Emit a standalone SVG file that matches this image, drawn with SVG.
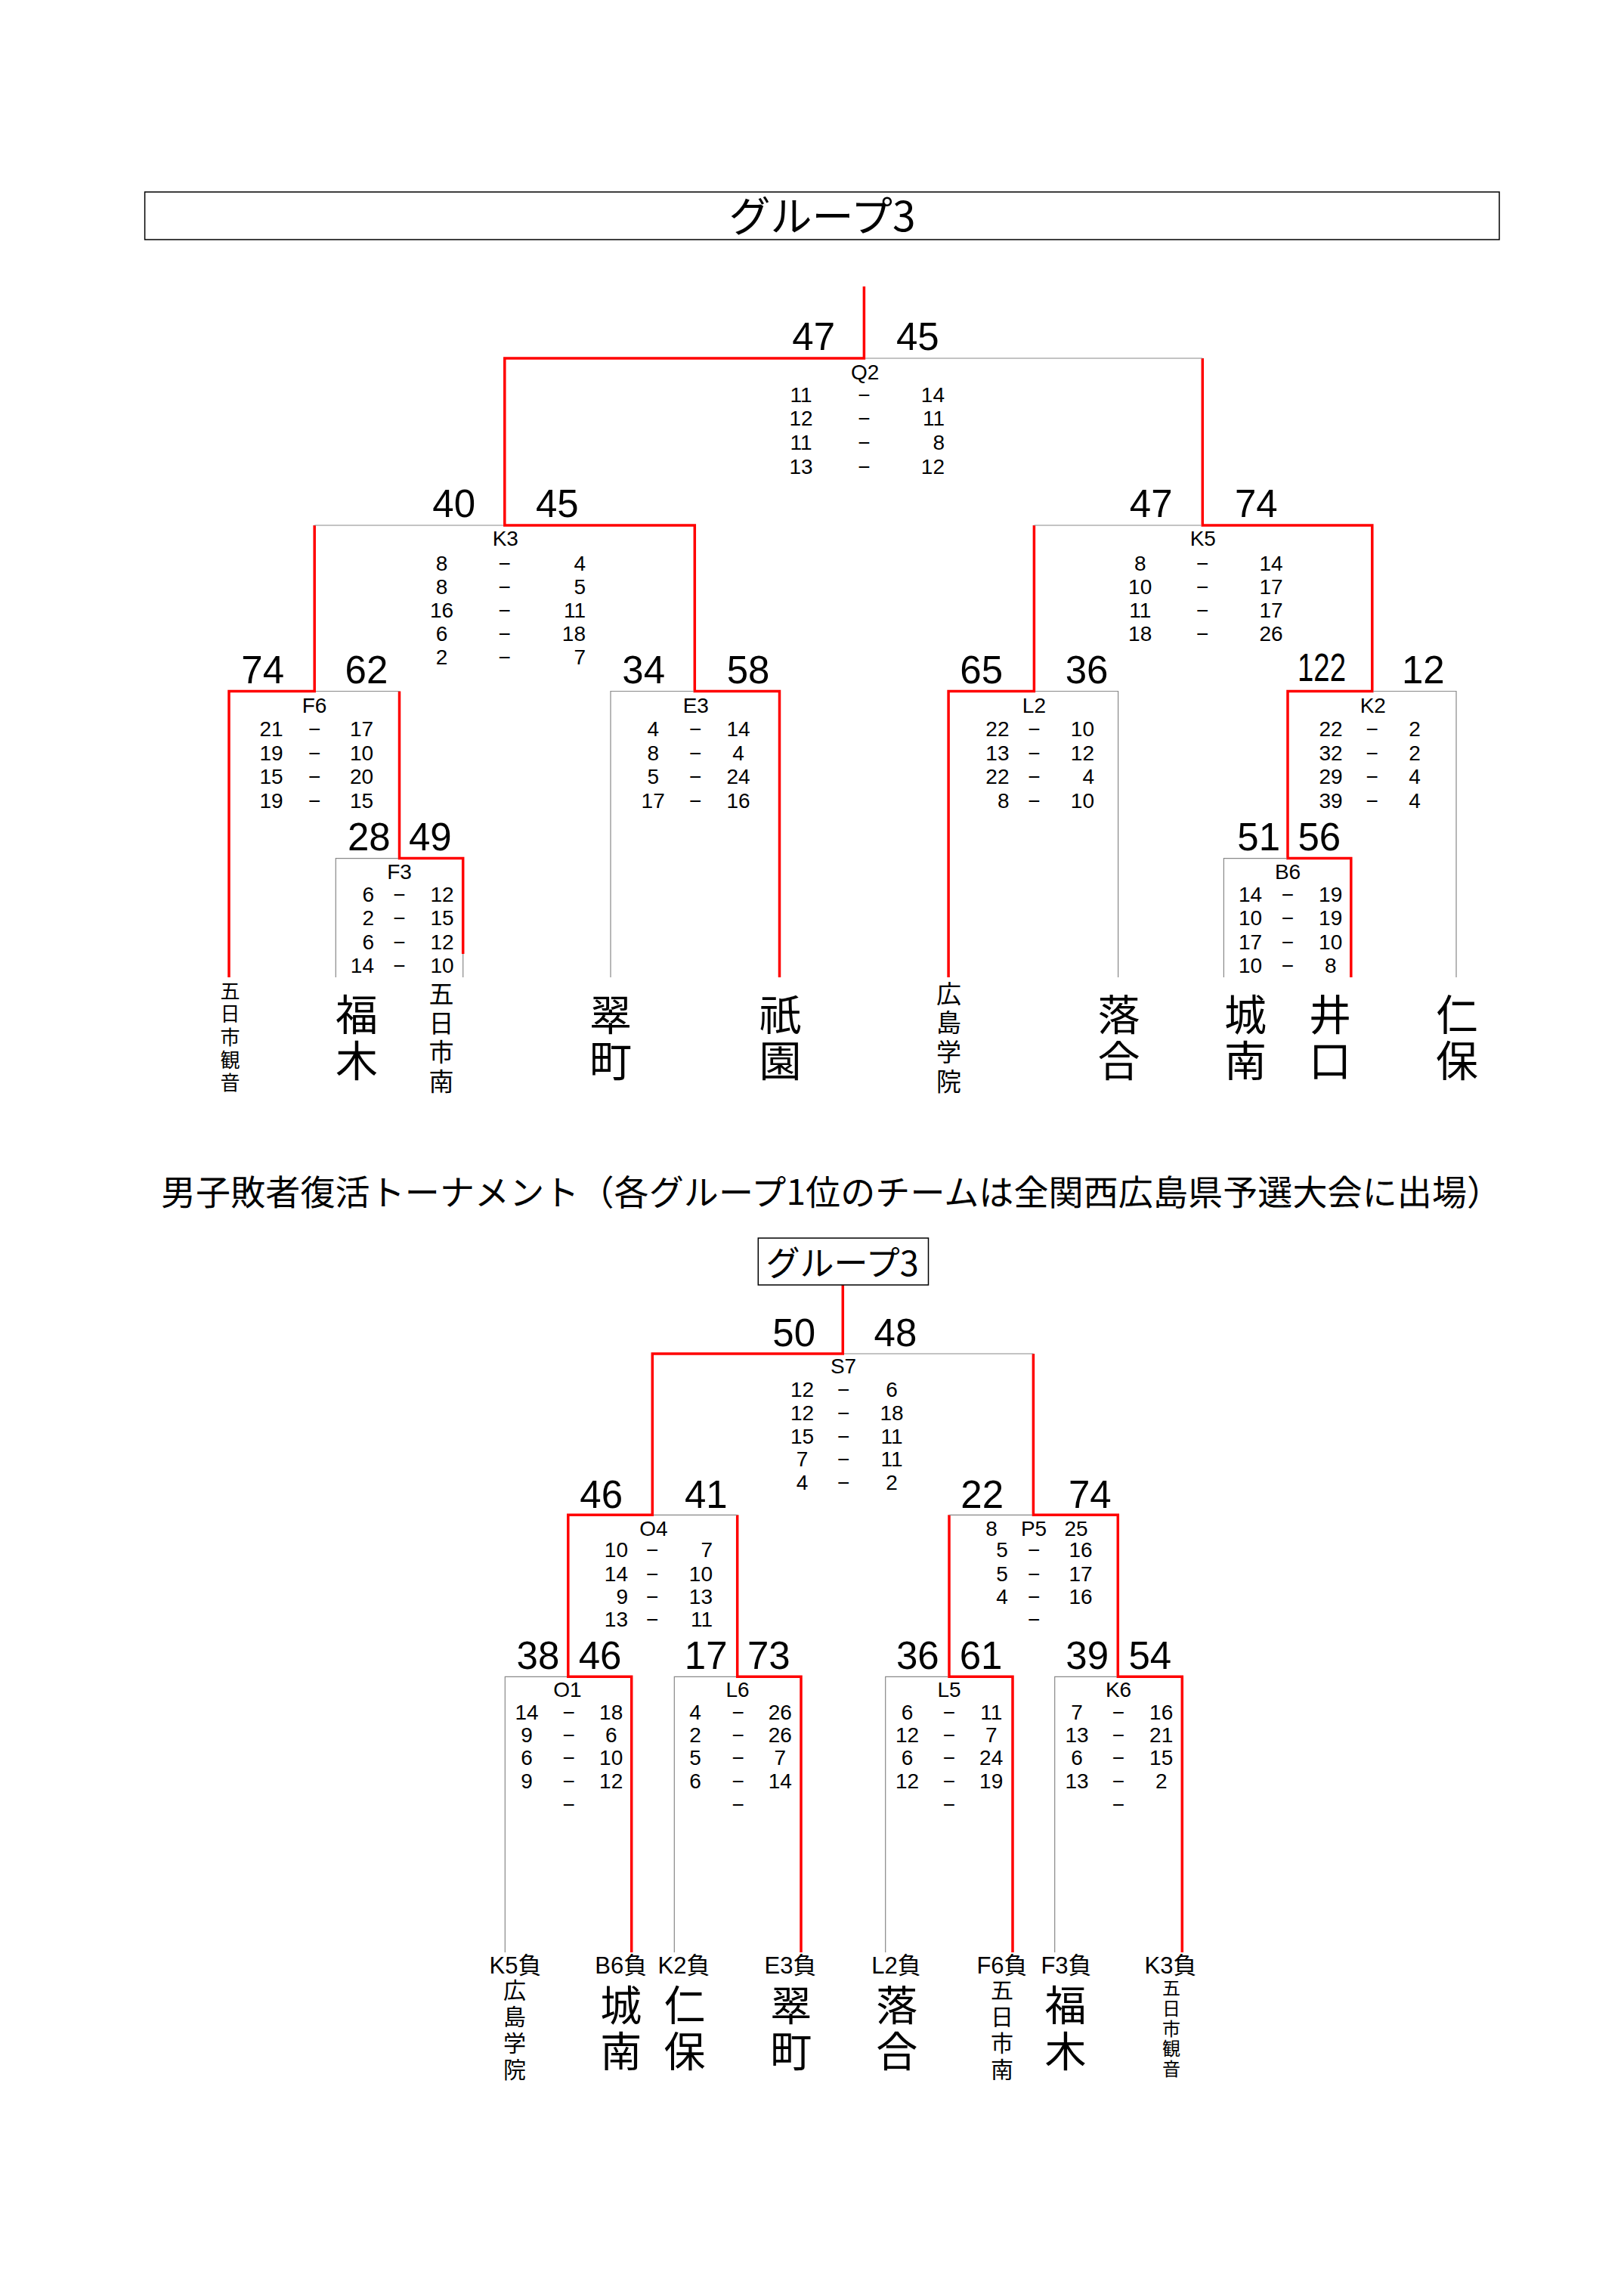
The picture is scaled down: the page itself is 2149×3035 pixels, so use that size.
<svg xmlns="http://www.w3.org/2000/svg" width="2149" height="3035" viewBox="0 0 2149 3035">
<style>
.bg{fill:#fff}
.r{fill:none;stroke:#f00;stroke-width:3.5;stroke-linejoin:miter}
.g{fill:none;stroke:#888;stroke-width:1.2}
.box{fill:none;stroke:#000;stroke-width:1.5}
text{fill:#000}
.n{font-family:"Liberation Sans",Arial,sans-serif;font-size:51px}
.s{font-family:"Liberation Sans",Arial,sans-serif;font-size:28px}
.t{font-family:"Liberation Sans","Noto Sans CJK JP",sans-serif;font-size:31px;text-anchor:middle}
.j{font-family:"Noto Sans CJK JP",sans-serif;text-anchor:middle}
.v{font-family:"Noto Sans CJK JP",sans-serif;writing-mode:vertical-rl;text-anchor:start}
.m{text-anchor:middle}
.e{text-anchor:end}
</style>
<rect class="bg" x="0" y="0" width="2149" height="3035"/>

<g id="title-top">
<rect class="box" x="191.6" y="254" width="1792.4" height="63"/>
<text class="j" x="1088" y="306" font-size="55">グループ3</text>
</g>

<g id="connectors">
<!-- top bracket, red -->
<path class="r" d="M1143.4,379 V474 H667.8 V695 H919.3 V914.5 H1031.5 V1293"/>
<path class="r" d="M416.2,695 V914.5 H303 V1293"/>
<path class="r" d="M528.5,914.5 V1135.6 H612.7 V1262"/>
<path class="r" d="M1591.3,474 V695 H1815.8 V914.5 H1704 V1135.6 H1787.8 V1293"/>
<path class="r" d="M1368.4,695 V914.5 H1255.1 V1293"/>
<!-- top bracket, gray -->
<path class="g" d="M1145,474 H1591.3"/>
<path class="g" d="M416.2,695 H666"/>
<path class="g" d="M1368.4,695 H1589.5"/>
<path class="g" d="M418,914.5 H528.5"/>
<path class="g" d="M444.3,1293 V1135.6 H527"/>
<path class="g" d="M612.7,1262 V1293"/>
<path class="g" d="M808,1293 V914.5 H918"/>
<path class="g" d="M1370,914.5 H1479.6 V1293"/>
<path class="g" d="M1817,914.5 H1927 V1293"/>
<path class="g" d="M1619.4,1293 V1135.6 H1703"/>
<!-- lower bracket, red -->
<path class="r" d="M1115.3,1700 V1791 H863.3 V2004.3 H751.8 V2218.3 H835.7 V2583"/>
<path class="r" d="M975.7,2004.3 V2218.3 H1060 V2583"/>
<path class="r" d="M1367.4,1791 V2004.3 H1479.3 V2218.3 H1564.3 V2583"/>
<path class="r" d="M1256,2004.3 V2218.3 H1340 V2583"/>
<!-- lower bracket, gray -->
<path class="g" d="M1117,1791 H1367.4"/>
<path class="g" d="M865,2004.3 H975.7"/>
<path class="g" d="M1256,2004.3 H1366"/>
<path class="g" d="M668.3,2583 V2218.3 H750"/>
<path class="g" d="M892.3,2583 V2218.3 H974"/>
<path class="g" d="M1171.7,2583 V2218.3 H1254"/>
<path class="g" d="M1395.7,2583 V2218.3 H1478"/>
</g>

<!-- ===== top bracket matches ===== -->
<g id="node-Q2">
<text class="n e" x="1105" y="463">47</text>
<text class="n" x="1186" y="463">45</text>
<text class="s m" x="1144.6" y="502">Q2</text>
<text class="s m" x="1060" y="532">11</text><text class="s m" x="1143.4" y="532">−</text><text class="s e" x="1250" y="532">14</text>
<text class="s m" x="1060" y="563">12</text><text class="s m" x="1143.4" y="563">−</text><text class="s e" x="1250" y="563">11</text>
<text class="s m" x="1060" y="595">11</text><text class="s m" x="1143.4" y="595">−</text><text class="s e" x="1250" y="595">8</text>
<text class="s m" x="1060" y="627">13</text><text class="s m" x="1143.4" y="627">−</text><text class="s e" x="1250" y="627">12</text>
</g>

<g id="node-K3">
<text class="n e" x="629" y="684">40</text>
<text class="n" x="709" y="684">45</text>
<text class="s m" x="668.8" y="722">K3</text>
<text class="s m" x="584.6" y="755">8</text><text class="s m" x="667.8" y="755">−</text><text class="s e" x="775" y="755">4</text>
<text class="s m" x="584.6" y="786">8</text><text class="s m" x="667.8" y="786">−</text><text class="s e" x="775" y="786">5</text>
<text class="s m" x="584.6" y="817">16</text><text class="s m" x="667.8" y="817">−</text><text class="s e" x="775" y="817">11</text>
<text class="s m" x="584.6" y="848">6</text><text class="s m" x="667.8" y="848">−</text><text class="s e" x="775" y="848">18</text>
<text class="s m" x="584.6" y="879">2</text><text class="s m" x="667.8" y="879">−</text><text class="s e" x="775" y="879">7</text>
</g>

<g id="node-K5">
<text class="n e" x="1551.5" y="684">47</text>
<text class="n" x="1634" y="684">74</text>
<text class="s m" x="1591.8" y="722">K5</text>
<text class="s m" x="1508.7" y="755">8</text><text class="s m" x="1591.3" y="755">−</text><text class="s m" x="1682" y="755">14</text>
<text class="s m" x="1508.7" y="786">10</text><text class="s m" x="1591.3" y="786">−</text><text class="s m" x="1682" y="786">17</text>
<text class="s m" x="1508.7" y="817">11</text><text class="s m" x="1591.3" y="817">−</text><text class="s m" x="1682" y="817">17</text>
<text class="s m" x="1508.7" y="848">18</text><text class="s m" x="1591.3" y="848">−</text><text class="s m" x="1682" y="848">26</text>
</g>

<g id="node-F6">
<text class="n e" x="376" y="903.5">74</text>
<text class="n" x="456.6" y="903.5">62</text>
<text class="s m" x="416" y="943">F6</text>
<text class="s m" x="359" y="974">21</text><text class="s m" x="416.2" y="974">−</text><text class="s m" x="478.5" y="974">17</text>
<text class="s m" x="359" y="1005.5">19</text><text class="s m" x="416.2" y="1005.5">−</text><text class="s m" x="478.5" y="1005.5">10</text>
<text class="s m" x="359" y="1037">15</text><text class="s m" x="416.2" y="1037">−</text><text class="s m" x="478.5" y="1037">20</text>
<text class="s m" x="359" y="1068.5">19</text><text class="s m" x="416.2" y="1068.5">−</text><text class="s m" x="478.5" y="1068.5">15</text>
</g>

<g id="node-F3">
<text class="n e" x="516.7" y="1124.6">28</text>
<text class="n" x="541" y="1124.6">49</text>
<text class="s m" x="528.5" y="1162.5">F3</text>
<text class="s e" x="495" y="1193">6</text><text class="s m" x="528.5" y="1193">−</text><text class="s m" x="585" y="1193">12</text>
<text class="s e" x="495" y="1224">2</text><text class="s m" x="528.5" y="1224">−</text><text class="s m" x="585" y="1224">15</text>
<text class="s e" x="495" y="1256">6</text><text class="s m" x="528.5" y="1256">−</text><text class="s m" x="585" y="1256">12</text>
<text class="s e" x="495" y="1287">14</text><text class="s m" x="528.5" y="1287">−</text><text class="s m" x="585" y="1287">10</text>
</g>

<g id="node-E3">
<text class="n e" x="880" y="903.5">34</text>
<text class="n" x="961.7" y="903.5">58</text>
<text class="s m" x="920.8" y="943">E3</text>
<text class="s m" x="864.2" y="974">4</text><text class="s m" x="920.3" y="974">−</text><text class="s m" x="977" y="974">14</text>
<text class="s m" x="864.2" y="1005.5">8</text><text class="s m" x="920.3" y="1005.5">−</text><text class="s m" x="977" y="1005.5">4</text>
<text class="s m" x="864.2" y="1037">5</text><text class="s m" x="920.3" y="1037">−</text><text class="s m" x="977" y="1037">24</text>
<text class="s m" x="864.2" y="1068.5">17</text><text class="s m" x="920.3" y="1068.5">−</text><text class="s m" x="977" y="1068.5">16</text>
</g>

<g id="node-L2">
<text class="n e" x="1327" y="903.5">65</text>
<text class="n" x="1409.7" y="903.5">36</text>
<text class="s m" x="1368.4" y="943">L2</text>
<text class="s e" x="1335.5" y="974">22</text><text class="s m" x="1368.4" y="974">−</text><text class="s e" x="1448" y="974">10</text>
<text class="s e" x="1335.5" y="1005.5">13</text><text class="s m" x="1368.4" y="1005.5">−</text><text class="s e" x="1448" y="1005.5">12</text>
<text class="s e" x="1335.5" y="1037">22</text><text class="s m" x="1368.4" y="1037">−</text><text class="s e" x="1448" y="1037">4</text>
<text class="s e" x="1335.5" y="1068.5">8</text><text class="s m" x="1368.4" y="1068.5">−</text><text class="s e" x="1448" y="1068.5">10</text>
</g>

<g id="node-K2">
<text class="n e" x="1781" y="901" font-size="44" textLength="64" lengthAdjust="spacingAndGlyphs">122</text>
<text class="n" x="1855" y="903.5">12</text>
<text class="s m" x="1816.8" y="943">K2</text>
<text class="s m" x="1761" y="974">22</text><text class="s m" x="1815.8" y="974">−</text><text class="s m" x="1872" y="974">2</text>
<text class="s m" x="1761" y="1005.5">32</text><text class="s m" x="1815.8" y="1005.5">−</text><text class="s m" x="1872" y="1005.5">2</text>
<text class="s m" x="1761" y="1037">29</text><text class="s m" x="1815.8" y="1037">−</text><text class="s m" x="1872" y="1037">4</text>
<text class="s m" x="1761" y="1068.5">39</text><text class="s m" x="1815.8" y="1068.5">−</text><text class="s m" x="1872" y="1068.5">4</text>
</g>

<g id="node-B6">
<text class="n e" x="1694" y="1124.6">51</text>
<text class="n" x="1717.4" y="1124.6">56</text>
<text class="s m" x="1704" y="1162.5">B6</text>
<text class="s m" x="1654.6" y="1193">14</text><text class="s m" x="1704" y="1193">−</text><text class="s m" x="1760.7" y="1193">19</text>
<text class="s m" x="1654.6" y="1224">10</text><text class="s m" x="1704" y="1224">−</text><text class="s m" x="1760.7" y="1224">19</text>
<text class="s m" x="1654.6" y="1256">17</text><text class="s m" x="1704" y="1256">−</text><text class="s m" x="1760.7" y="1256">10</text>
<text class="s m" x="1654.6" y="1287">10</text><text class="s m" x="1704" y="1287">−</text><text class="s m" x="1760.7" y="1287">8</text>
</g>

<!-- top bracket teams (vertical) -->
<g id="team-top-itsukaichi-kannon"><text class="v" x="304.6" y="1298" font-size="26" letter-spacing="4.4">五日市観音</text></g>
<g id="team-top-fukugi"><text class="v" x="472" y="1313.5" font-size="56" letter-spacing="5">福木</text></g>
<g id="team-top-itsukaichi-minami"><text class="v" x="584" y="1298" font-size="33" letter-spacing="5.7">五日市南</text></g>
<g id="team-top-midorimachi"><text class="v" x="808" y="1313.5" font-size="56" letter-spacing="5">翠町</text></g>
<g id="team-top-gion"><text class="v" x="1032.6" y="1313.5" font-size="56" letter-spacing="5">祇園</text></g>
<g id="team-top-hiroshima-gakuin"><text class="v" x="1255.6" y="1297.5" font-size="33" letter-spacing="5.7">広島学院</text></g>
<g id="team-top-ochiai"><text class="v" x="1480.6" y="1313.5" font-size="56" letter-spacing="5">落合</text></g>
<g id="team-top-jonan"><text class="v" x="1648" y="1313.5" font-size="56" letter-spacing="5">城南</text></g>
<g id="team-top-inokuchi"><text class="v" x="1760" y="1313.5" font-size="56" letter-spacing="5">井口</text></g>
<g id="team-top-niho"><text class="v" x="1928" y="1313.5" font-size="56" letter-spacing="5">仁保</text></g>

<!-- ===== lower bracket ===== -->
<g id="heading-lower">
<text class="j" x="1100" y="1594" font-size="46" textLength="1774">男子敗者復活トーナメント（各グループ1位のチームは全関西広島県予選大会に出場）</text>
</g>
<g id="title-lower">
<rect class="box" x="1003.3" y="1638" width="225.2" height="62"/>
<text class="j" x="1114.7" y="1688" font-size="45">グループ3</text>
</g>

<g id="node-S7">
<text class="n e" x="1079" y="1781">50</text>
<text class="n" x="1156.6" y="1781">48</text>
<text class="s m" x="1116" y="1817">S7</text>
<text class="s m" x="1061.5" y="1848">12</text><text class="s m" x="1116.3" y="1848">−</text><text class="s m" x="1180" y="1848">6</text>
<text class="s m" x="1061.5" y="1879">12</text><text class="s m" x="1116.3" y="1879">−</text><text class="s m" x="1180" y="1879">18</text>
<text class="s m" x="1061.5" y="1910">15</text><text class="s m" x="1116.3" y="1910">−</text><text class="s m" x="1180" y="1910">11</text>
<text class="s m" x="1061.5" y="1939.5">7</text><text class="s m" x="1116.3" y="1939.5">−</text><text class="s m" x="1180" y="1939.5">11</text>
<text class="s m" x="1061.5" y="1970.5">4</text><text class="s m" x="1116.3" y="1970.5">−</text><text class="s m" x="1180" y="1970.5">2</text>
</g>

<g id="node-O4">
<text class="n e" x="824" y="1995">46</text>
<text class="n" x="906" y="1995">41</text>
<text class="s m" x="865" y="2031.7">O4</text>
<text class="s e" x="831" y="2060">10</text><text class="s m" x="863.3" y="2060">−</text><text class="s e" x="943" y="2060">7</text>
<text class="s e" x="831" y="2091.5">14</text><text class="s m" x="863.3" y="2091.5">−</text><text class="s e" x="943" y="2091.5">10</text>
<text class="s e" x="831" y="2121.7">9</text><text class="s m" x="863.3" y="2121.7">−</text><text class="s e" x="943" y="2121.7">13</text>
<text class="s e" x="831" y="2151.7">13</text><text class="s m" x="863.3" y="2151.7">−</text><text class="s e" x="943" y="2151.7">11</text>
</g>

<g id="node-P5">
<text class="n e" x="1328" y="1995">22</text>
<text class="n" x="1414" y="1995">74</text>
<text class="s m" x="1312" y="2031.7">8</text><text class="s m" x="1368" y="2031.7">P5</text><text class="s m" x="1424" y="2031.7">25</text>
<text class="s m" x="1326" y="2060">5</text><text class="s m" x="1368.3" y="2060">−</text><text class="s m" x="1430" y="2060">16</text>
<text class="s m" x="1326" y="2091.5">5</text><text class="s m" x="1368.3" y="2091.5">−</text><text class="s m" x="1430" y="2091.5">17</text>
<text class="s m" x="1326" y="2121.7">4</text><text class="s m" x="1368.3" y="2121.7">−</text><text class="s m" x="1430" y="2121.7">16</text>
<text class="s m" x="1368.3" y="2152">−</text>
</g>

<g id="node-O1">
<text class="n e" x="740.3" y="2207.5">38</text>
<text class="n" x="765.7" y="2207.5">46</text>
<text class="s m" x="751" y="2245">O1</text>
<text class="s m" x="697" y="2275">14</text><text class="s m" x="752.7" y="2275">−</text><text class="s m" x="808.7" y="2275">18</text>
<text class="s m" x="697" y="2305">9</text><text class="s m" x="752.7" y="2305">−</text><text class="s m" x="808.7" y="2305">6</text>
<text class="s m" x="697" y="2335">6</text><text class="s m" x="752.7" y="2335">−</text><text class="s m" x="808.7" y="2335">10</text>
<text class="s m" x="697" y="2366">9</text><text class="s m" x="752.7" y="2366">−</text><text class="s m" x="808.7" y="2366">12</text>
<text class="s m" x="752.7" y="2397">−</text>
</g>

<g id="node-L6">
<text class="n e" x="962.5" y="2207.5">17</text>
<text class="n" x="989" y="2207.5">73</text>
<text class="s m" x="976" y="2245">L6</text>
<text class="s m" x="920" y="2275">4</text><text class="s m" x="976.7" y="2275">−</text><text class="s m" x="1032.3" y="2275">26</text>
<text class="s m" x="920" y="2305">2</text><text class="s m" x="976.7" y="2305">−</text><text class="s m" x="1032.3" y="2305">26</text>
<text class="s m" x="920" y="2335">5</text><text class="s m" x="976.7" y="2335">−</text><text class="s m" x="1032.3" y="2335">7</text>
<text class="s m" x="920" y="2366">6</text><text class="s m" x="976.7" y="2366">−</text><text class="s m" x="1032.3" y="2366">14</text>
<text class="s m" x="976.7" y="2397">−</text>
</g>

<g id="node-L5">
<text class="n e" x="1242.7" y="2207.5">36</text>
<text class="n" x="1269.7" y="2207.5">61</text>
<text class="s m" x="1256" y="2245">L5</text>
<text class="s m" x="1200.5" y="2275">6</text><text class="s m" x="1256" y="2275">−</text><text class="s m" x="1311.7" y="2275">11</text>
<text class="s m" x="1200.5" y="2305">12</text><text class="s m" x="1256" y="2305">−</text><text class="s m" x="1311.7" y="2305">7</text>
<text class="s m" x="1200.5" y="2335">6</text><text class="s m" x="1256" y="2335">−</text><text class="s m" x="1311.7" y="2335">24</text>
<text class="s m" x="1200.5" y="2366">12</text><text class="s m" x="1256" y="2366">−</text><text class="s m" x="1311.7" y="2366">19</text>
<text class="s m" x="1256" y="2397">−</text>
</g>

<g id="node-K6">
<text class="n e" x="1467" y="2207.5">39</text>
<text class="n" x="1493.5" y="2207.5">54</text>
<text class="s m" x="1480" y="2245">K6</text>
<text class="s m" x="1425" y="2275">7</text><text class="s m" x="1480" y="2275">−</text><text class="s m" x="1536.7" y="2275">16</text>
<text class="s m" x="1425" y="2305">13</text><text class="s m" x="1480" y="2305">−</text><text class="s m" x="1536.7" y="2305">21</text>
<text class="s m" x="1425" y="2335">6</text><text class="s m" x="1480" y="2335">−</text><text class="s m" x="1536.7" y="2335">15</text>
<text class="s m" x="1425" y="2366">13</text><text class="s m" x="1480" y="2366">−</text><text class="s m" x="1536.7" y="2366">2</text>
<text class="s m" x="1480" y="2397">−</text>
</g>

<!-- lower bracket teams -->
<g id="team-low-hiroshima-gakuin"><text class="t" x="682" y="2611">K5負</text><text class="v" x="681" y="2618" font-size="30" letter-spacing="5">広島学院</text></g>
<g id="team-low-jonan"><text class="t" x="821.7" y="2611">B6負</text><text class="v" x="821.7" y="2624.5" font-size="55" letter-spacing="6.5">城南</text></g>
<g id="team-low-niho"><text class="t" x="905" y="2611">K2負</text><text class="v" x="906" y="2624.5" font-size="55" letter-spacing="6.5">仁保</text></g>
<g id="team-low-midorimachi"><text class="t" x="1046" y="2611">E3負</text><text class="v" x="1046.7" y="2624.5" font-size="55" letter-spacing="6.5">翠町</text></g>
<g id="team-low-ochiai"><text class="t" x="1186" y="2611">L2負</text><text class="v" x="1186.7" y="2624.5" font-size="55" letter-spacing="6.5">落合</text></g>
<g id="team-low-itsukaichi-minami"><text class="t" x="1326" y="2611">F6負</text><text class="v" x="1326" y="2618" font-size="30" letter-spacing="5">五日市南</text></g>
<g id="team-low-fukugi"><text class="t" x="1411" y="2611">F3負</text><text class="v" x="1410" y="2624.5" font-size="55" letter-spacing="6.5">福木</text></g>
<g id="team-low-itsukaichi-kannon"><text class="t" x="1549" y="2611">K3負</text><text class="v" x="1550" y="2618" font-size="24" letter-spacing="2.7">五日市観音</text></g>
</svg>
